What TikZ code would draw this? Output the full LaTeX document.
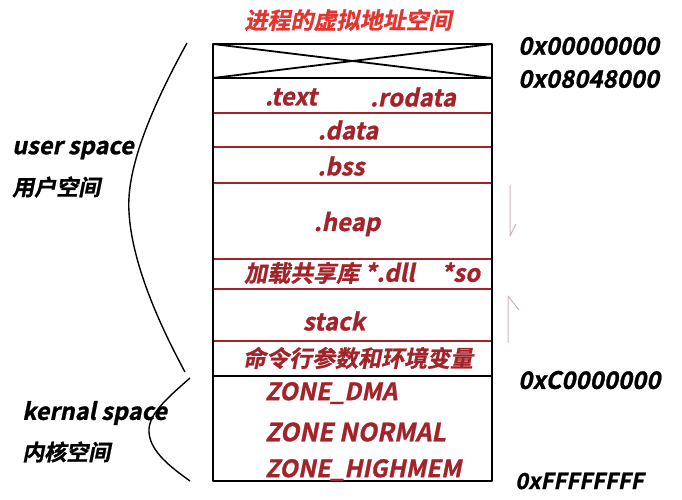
\documentclass[tikz,border=0pt]{standalone}
\usepackage{fontspec}
\newfontfamily\lbl{Noto Sans CJK SC Bold}[FakeSlant=0.2, FakeBold=1]
\usetikzlibrary{arrows}
\definecolor{segred}{HTML}{A3232A}
\definecolor{titlered}{HTML}{E3342F}
\definecolor{growgray}{HTML}{CDB4BA}
\tikzset{
	seg/.style      = {text=segred, inner sep=0pt, font=\lbl\fontsize{23}{25}\selectfont},
	seglat/.style   = {seg, font=\lbl\fontsize{24}{26}\selectfont},
	addr/.style     = {text=black, anchor=west, inner sep=0pt, font=\lbl\fontsize{24}{26}\selectfont},
	side/.style     = {text=black, anchor=west, inner sep=0pt, font=\lbl\fontsize{22}{24}\selectfont},
	sidelat/.style  = {side, font=\lbl\fontsize{23.5}{26}\selectfont},
	redline/.style  = {draw=segred, line width=1.6pt},
	boxline/.style  = {draw=black, line width=1.8pt},
	brace/.style    = {draw=black, line width=1.4pt},
	growmark/.style = {draw=growgray, line width=1pt} % heap / stack growth
}

\begin{document}
\begin{tikzpicture}[x=1pt, y=-1pt, line join=round]
\useasboundingbox (0,0) rectangle (682,500);

% corners of the address space box
\coordinate (tl) at (213,44);
\coordinate (tr) at (492,44);
\coordinate (ml) at (213,78);
\coordinate (mr) at (492,78);
\coordinate (kl) at (213,376);
\coordinate (kr) at (492,376);
\coordinate (bl) at (213,481);
\coordinate (br) at (492,481);

% separators between the segments
\foreach \y in {113,147,183,259,289,341}
	\draw[redline] (213,\y) -- (492,\y);
\draw[boxline] (ml) -- (mr);
\draw[boxline] (kl) -- (kr);
\draw[boxline] (tl) -- (tr) -- (br) -- (bl) -- cycle;
% reserved area
\draw[boxline] (tl) -- (mr);
\draw[boxline] (ml) -- (tr);

\draw
node at (348,20) [seg, text=titlered] (title) {进程的虚拟地址空间}
node at (291,97) [seglat] (text) {.text}
node at (413,97) [seglat] (rodata) {.rodata}
node at (348,130) [seglat] (data) {.data}
node at (341,166) [seglat] (bss) {.bss}
node at (347,224) [seglat] (heap) {.heap}
node at (244,273) [seg, anchor=west] (shlib) {加载共享库 \fontsize{24}{26}\selectfont*.dll\hspace{1.1em}*so}
node at (334,321) [seglat] (stack) {stack}
node at (358,358) [seg] (args) {命令行参数和环境变量}
node at (265,393) [seglat, anchor=west] (dma) {ZONE\_DMA}
node at (265,432) [seglat, anchor=west, font=\lbl\fontsize{25}{27}\selectfont] (normal) {ZONE NORMAL}
node at (265,470) [seglat, anchor=west] (highmem) {ZONE\_HIGHMEM};

% addresses
\draw
node at (518,46) [addr] (a0) {0x00000000}
node at (518,79) [addr] (a1) {0x08048000}
node at (518,380) [addr] (a2) {0xC0000000}
node at (515,481) [addr, font=\lbl\fontsize{22}{26}\selectfont] (a3) {0xFFFFFFFF};

% user / kernel braces
\draw[brace] (187,43) .. controls (150,110) and (126,170) .. (129,212)
	.. controls (132,268) and (165,335) .. (185,372);
\draw[brace] (190,378) .. controls (165,400) and (148,415) .. (149,432)
	.. controls (150,452) and (172,468) .. (190,481);
\draw
node at (12,150) [sidelat] (user) {user space}
node at (12,187) [side] (userzh) {用户空间}
node at (22,413) [sidelat] (kern) {kernal space}
node at (22,452) [side] (kernzh) {内核空间};

% growth marks
\coordinate (hs) at (510,185);
\coordinate (he) at (510,236);
\coordinate (ss) at (508,343);
\coordinate (se) at (508,296);
\draw[growmark] (hs) -- (he) -- ++(6,-12);
\draw[growmark] (ss) -- (se) -- ++(11,14);
\end{tikzpicture}
\end{document}
